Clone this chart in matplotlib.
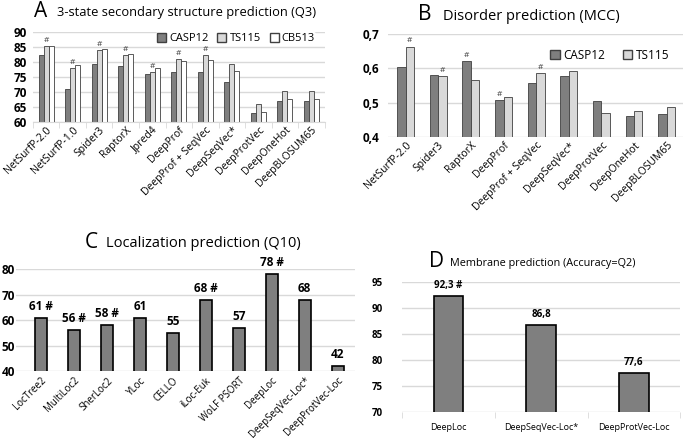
import numpy as np
import matplotlib.pyplot as plt
from matplotlib.patches import Patch

plt.rcParams['font.family'] = ['Open Sans', 'DejaVu Sans']

# A: 3-state secondary structure (Q3)
a_methods = ["NetSurfP-2.0", "NetSurfP-1.0", "Spider3", "RaptorX", "Jpred4", "DeepProf",
             "DeepProf + SeqVec", "DeepSeqVec*", "DeepProtVec", "DeepOneHot", "DeepBLOSUM65"]
a_casp12 = [82.5, 71.0, 79.2, 78.7, 76.0, 76.5, 76.5, 73.2, 63.0, 67.1, 67.1]
a_ts115 = [85.3, 78.0, 84.0, 82.3, 76.8, 81.0, 82.5, 79.2, 66.0, 70.2, 70.4]
a_cb513 = [85.3, 79.0, 84.4, 82.7, 78.0, 80.3, 80.8, 77.0, 63.4, 67.5, 67.5]
a_hash_ts115 = [True, True, True, True, True, True, True, False, False, False, False]

# B: disorder (MCC)
b_methods = ["NetSurfP-2.0", "Spider3", "RaptorX", "DeepProf", "DeepProf + SeqVec",
             "DeepSeqVec*", "DeepProtVec", "DeepOneHot", "DeepBLOSUM65"]
b_casp12 = [0.603, 0.581, 0.620, 0.508, 0.557, 0.576, 0.506, 0.461, 0.466]
b_ts115 = [0.663, 0.576, 0.566, 0.517, 0.586, 0.591, 0.470, 0.476, 0.488]
b_hash_casp12 = [False, False, True, True, False, False, False, False, False]
b_hash_ts115 = [True, True, False, False, True, False, False, False, False]

# C: localization (Q10)
c_methods = ["LocTree2", "MultiLoc2", "SherLoc2", "YLoc", "CELLO", "iLoc-Euk",
             "WoLF PSORT", "DeepLoc", "DeepSeqVec-Loc*", "DeepProtVec-Loc"]
c_values = [61, 56, 58, 61, 55, 68, 57, 78, 68, 42]
c_hash = [True, True, True, False, False, True, False, True, False, False]

# D: membrane (Q2)
d_methods = ["DeepLoc", "DeepSeqVec-Loc*", "DeepProtVec-Loc"]
d_values = [92.3, 86.8, 77.6]
d_hash = [True, False, False]

dark = "#7f7f7f"
light = "#d9d9d9"
grid_c = "#d9d9d9"

fig = plt.figure(figsize=(6.85, 4.45), dpi=100)


def style(ax, size=8.5, pad=6):
    for s in ax.spines.values():
        s.set_visible(False)
    ax.set_axisbelow(True)
    ax.yaxis.grid(True, color=grid_c, linewidth=1)
    ax.tick_params(axis="y", length=0, labelsize=size, pad=pad)
    for lab in ax.get_yticklabels():
        lab.set_fontweight("bold")


def comma(v, decimals):
    return f"{v:.{decimals}f}".replace(".", ",")


# ---- A ----
axA = fig.add_axes([0.048, 0.726, 0.426, 0.202])
x = np.arange(len(a_methods))
w = 0.19
axA.bar(x - w, a_casp12, w, color=dark, edgecolor="#404040", linewidth=0.6)
axA.bar(x, a_ts115, w, color=light, edgecolor="#404040", linewidth=0.6)
axA.bar(x + w, a_cb513, w, color="white", edgecolor="#404040", linewidth=0.6)
for i, h in enumerate(a_hash_ts115):
    if h:
        axA.text(x[i], a_ts115[i] + 0.6, "#", ha="center", va="bottom", fontsize=6, color="#404040")
axA.set_ylim(60, 90)
axA.set_xlim(-0.5, len(a_methods) - 0.5)
axA.set_yticks([60, 65, 70, 75, 80, 85, 90])
axA.set_xticks(x)
axA.set_xticklabels(a_methods, rotation=45, ha="right", rotation_mode="anchor", fontsize=7.5)
axA.tick_params(axis="x", length=0, pad=2)
axA.set_xticks(np.arange(-0.5, len(a_methods)), minor=True)
axA.tick_params(axis="x", which="minor", length=4, color=grid_c)
style(axA, pad=4)
axA.spines["bottom"].set_visible(True)
axA.spines["bottom"].set_color(grid_c)
axA.legend(handles=[Patch(facecolor=dark, edgecolor="#404040", label="CASP12"),
                    Patch(facecolor=light, edgecolor="#404040", label="TS115"),
                    Patch(facecolor="white", edgecolor="#404040", label="CB513")],
           loc="upper right", ncol=3, frameon=True, facecolor="white", edgecolor="none",
           fontsize=8, handlelength=0.8, handleheight=0.8, handletextpad=0.3,
           columnspacing=0.8, borderpad=0.1, bbox_to_anchor=(0.99, 1.06), framealpha=1)
fig.text(0.050, 0.975, "A", fontsize=15, va="center", ha="left")
fig.text(0.083, 0.972, "3-state secondary structure prediction (Q3)", fontsize=9.3, va="center", ha="left")

# ---- B ----
axB = fig.add_axes([0.566, 0.692, 0.431, 0.232])
x = np.arange(len(b_methods))
w = 0.26
axB.bar(x - w / 2, b_casp12, w, color=dark, edgecolor="#404040", linewidth=0.6)
axB.bar(x + w / 2, b_ts115, w, color=light, edgecolor="#404040", linewidth=0.6)
for i in range(len(b_methods)):
    if b_hash_casp12[i]:
        axB.text(x[i] - w / 2, b_casp12[i] + 0.006, "#", ha="center", va="bottom", fontsize=6, color="#404040")
    if b_hash_ts115[i]:
        axB.text(x[i] + w / 2, b_ts115[i] + 0.006, "#", ha="center", va="bottom", fontsize=6, color="#404040")
axB.set_ylim(0.4, 0.7)
axB.set_xlim(-0.55, len(b_methods) - 0.5)
axB.set_yticks([0.4, 0.5, 0.6, 0.7])
axB.set_yticklabels([comma(v, 1) for v in [0.4, 0.5, 0.6, 0.7]])
axB.set_xticks(x)
axB.set_xticklabels(b_methods, rotation=45, ha="right", rotation_mode="anchor", fontsize=7.5)
axB.tick_params(axis="x", length=0, pad=2)
style(axB)
axB.legend(handles=[Patch(facecolor=dark, edgecolor="#404040", label="CASP12"),
                    Patch(facecolor=light, edgecolor="#404040", label="TS115")],
           loc="upper right", ncol=2, frameon=False, fontsize=8.5, handlelength=0.8,
           handleheight=0.8, handletextpad=0.3, columnspacing=1.5, bbox_to_anchor=(0.99, 0.96))
fig.text(0.610, 0.967, "B", fontsize=15, va="center", ha="left")
fig.text(0.647, 0.964, "Disorder prediction (MCC)", fontsize=10.5, va="center", ha="left")

# ---- C ----
axC = fig.add_axes([0.024, 0.166, 0.494, 0.229])
x = np.arange(len(c_methods))
axC.bar(x, c_values, 0.36, color=dark, edgecolor="black", linewidth=1.2)
for i, v in enumerate(c_values):
    lab = f"{v} #" if c_hash[i] else f"{v}"
    axC.text(x[i], v + 2.0, lab, ha="center", va="bottom", fontsize=8.5, fontweight="bold")
axC.set_ylim(40, 80)
axC.set_xlim(-0.75, 9.52)
axC.set_yticks([40, 50, 60, 70, 80])
axC.set_xticks(x)
axC.set_xticklabels(c_methods, rotation=45, ha="right", rotation_mode="anchor", fontsize=7)
axC.tick_params(axis="x", length=0, pad=3)
style(axC, pad=1)
fig.text(0.124, 0.455, "C", fontsize=15, va="center", ha="left")
fig.text(0.155, 0.452, "Localization prediction (Q10)", fontsize=10.5, va="center", ha="left")

# ---- D ----
axD = fig.add_axes([0.587, 0.074, 0.406, 0.292])
x = np.arange(len(d_methods))
axD.bar(x, d_values, 0.32, color=dark, edgecolor="black", linewidth=1.2)
for i, v in enumerate(d_values):
    lab = comma(v, 1) + (" #" if d_hash[i] else "")
    axD.text(x[i], v + 0.9, lab, ha="center", va="bottom", fontsize=7, fontweight="bold")
axD.set_ylim(70, 95)
axD.set_xlim(-0.5, 2.5)
axD.set_yticks([70, 75, 80, 85, 90, 95])
axD.set_xticks(x)
axD.set_xticklabels(d_methods, fontsize=6.5)
axD.tick_params(axis="x", length=0, pad=8)
axD.set_xticks([-0.5, 0.5, 1.5, 2.5], minor=True)
axD.tick_params(axis="x", which="minor", length=4, color=grid_c)
style(axD, size=7, pad=14)
fig.text(0.627, 0.412, "D", fontsize=15, va="center", ha="left")
fig.text(0.657, 0.407, "Membrane prediction (Accuracy=Q2)", fontsize=7.8, va="center", ha="left")

fig.savefig("out.png", dpi=100)
